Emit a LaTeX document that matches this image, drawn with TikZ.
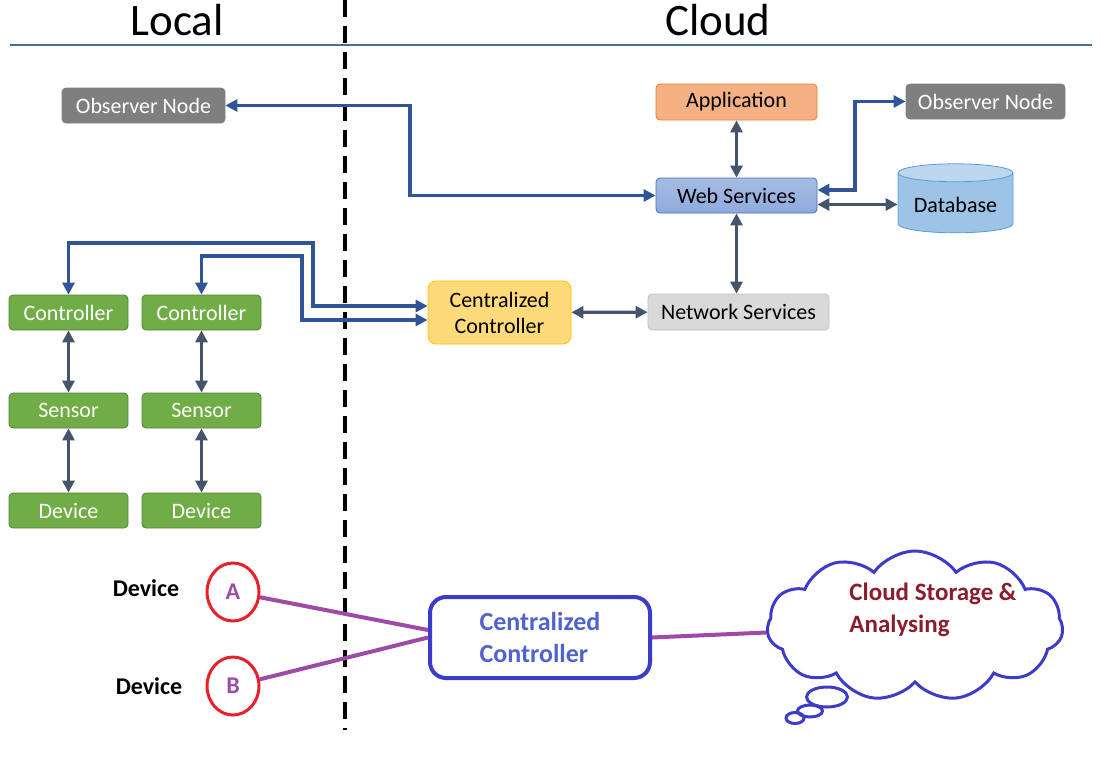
\documentclass[tikz,border=0pt]{standalone}
\usepackage{fontspec}
\setmainfont{Carlito}
\usetikzlibrary{arrows.meta}
\usetikzlibrary{shapes.geometric}
\usetikzlibrary{shapes.symbols}

\definecolor{headblue}{HTML}{4A6F96}
\definecolor{obsgray}{HTML}{7F7F7F}
\definecolor{appfill}{HTML}{F4B183}
\definecolor{appedge}{HTML}{ED7D31}
\definecolor{webfill}{HTML}{8FAADC}
\definecolor{webedge}{HTML}{4472C4}
\definecolor{dbfill}{HTML}{9DC3E6}
\definecolor{dbtop}{HTML}{BDD7EE}
\definecolor{dbedge}{HTML}{5B9BD5}
\definecolor{ccfill}{HTML}{FFDA7A}
\definecolor{ccedge}{HTML}{FFC000}
\definecolor{netfill}{HTML}{D9D9D9}
\definecolor{netedge}{HTML}{BFBFBF}
\definecolor{leafgreen}{HTML}{70AD47}
\definecolor{leafedge}{HTML}{548235}
\definecolor{linkblue}{HTML}{2F5597}
\definecolor{slate}{HTML}{44546A}
\definecolor{penblue}{HTML}{3C3CC8}
\definecolor{inkblue}{HTML}{5062D0}
\definecolor{wire}{HTML}{9D4BA5}
\definecolor{ringred}{HTML}{E8202A}
\definecolor{wine}{HTML}{8B1C2C}

\begin{document}
\begin{tikzpicture}[x=1pt,y=-1pt,>={Triangle[length=12pt,width=12pt]},
  box/.style={rectangle,rounded corners=4pt,line width=0.8pt,minimum height=35,
    font=\fontsize{22}{26}\selectfont,inner sep=2pt},
  graybox/.style={box,fill=obsgray,draw=obsgray,text=white},
  appbox/.style={box,fill=appfill,draw=appedge,minimum width=161,minimum height=36},
  webbox/.style={box,top color=webfill!80!white,bottom color=webfill,draw=webedge,minimum width=161},
  ccbox/.style={box,fill=ccfill,draw=ccedge,minimum width=143,minimum height=63,align=center,rounded corners=8pt},
  netbox/.style={box,fill=netfill,draw=netedge,minimum width=181,minimum height=36},
  greenbox/.style={box,fill=leafgreen,draw=leafedge,text=white,minimum width=119},
  dbbox/.style={cylinder,shape border rotate=90,aspect=0.2,minimum width=115,minimum height=69,
    draw=dbedge,line width=0.8pt,cylinder uses custom fill,cylinder body fill=dbfill,
    cylinder end fill=dbtop,font=\fontsize{22}{26}\selectfont},
  blueline/.style={draw=linkblue,line width=3.3pt},
  slateline/.style={draw=slate,line width=3.3pt},
  title/.style={font=\fontsize{45}{54}\selectfont},
  devlabel/.style={font=\fontsize{24}{28}\selectfont\bfseries},
  ring/.style={ellipse,draw=ringred,line width=3pt,minimum width=52,minimum height=58,
    text=wire,font=\fontsize{24}{28}\selectfont\bfseries},
  wireline/.style={draw=wire,line width=4pt},
  ctrlbox/.style={rectangle,rounded corners=16pt,draw=penblue,line width=4pt,minimum width=220,
    minimum height=81,align=left,text=inkblue,font=\fontsize{26}{32}\selectfont\bfseries},
  puff/.style={draw=penblue,line width=3pt}]
\useasboundingbox (0,0) rectangle (1102,758);

% headings and the local / cloud split
\node[title] (local) at (177,20) {Local};
\node[title] (cloudhead) at (718,20) {Cloud};
\draw[headblue,line width=1.5pt] (10,45) -- (1092,45);
\draw[black,line width=4pt,dash pattern=on 17pt off 9pt] (345,0) -- (345,730);

% cloud side
\node[graybox,minimum width=163] (obsL) at (143.5,105.5) {Observer Node};
\node[appbox] (app) at (736.5,102) {Application};
\node[graybox,minimum width=159] (obsR) at (985.5,101.5) {Observer Node};
\node[webbox] (web) at (736.5,195.5) {Web Services};
\node[dbbox] (db) at (955.5,204.5) {\raisebox{-4pt}{Database}};
\node[ccbox] (cc) at (499.5,312.5) {Centralized\\Controller};
\node[netbox] (net) at (738.5,312) {Network Services};

\draw[blueline,<->] (obsL.east) -- (410,105.5) |- (web.west);
\draw[blueline,<->] ([yshift=5.5pt]web.east) -- (855,190) |- (obsR.west);
\draw[slateline,<->] (app) -- (web);
\draw[slateline,<->] (web.east |- db.west) -- (db.west);
\draw[slateline,<->] (web.south) -- (web.south |- net.north);
\draw[slateline,<->] (cc) -- (net);

% local side
\foreach \i/\x in {1/68.5,2/201.5} {
  \node[greenbox] (ctrl\i) at (\x,312.5) {Controller};
  \node[greenbox] (sens\i) at (\x,410.5) {Sensor};
  \node[greenbox] (dev\i) at (\x,510.5) {Device};
  \draw[slateline,<->] (ctrl\i) -- (sens\i);
  \draw[slateline,<->] (sens\i) -- (dev\i);
}
\draw[blueline,<->] (ctrl1.north) |- (313,243) |- ([yshift=6.5pt]cc.west);
\draw[blueline,<->] (ctrl2.north) |- (302,256) |- ([yshift=-7.5pt]cc.west);

% lower sketch
\node[devlabel] (labA) at (146,588) {Device};
\node[devlabel] (labB) at (149,686) {Device};
\node[ring] (devA) at (233,592) {A};
\node[ring] (devB) at (233,686) {B};
\node[ctrlbox] (ccb) at (540,637.5) {Centralized\\Controller};
\node[cloud,cloud puffs=11,cloud puff arc=110,aspect=2,draw=penblue,line width=3pt,
  minimum width=296,minimum height=150] (storage) at (915,626) {};
\node[align=left,text=wine,font=\fontsize{25}{32}\selectfont\bfseries] (storagetxt) at (933,610)
  {Cloud Storage \&\\Analysing};
\draw[puff] (827,697) ellipse [x radius=20.5pt,y radius=10pt];
\draw[puff] (810,711) ellipse [x radius=12.5pt,y radius=6pt];
\draw[puff] (795,718) ellipse [x radius=9pt,y radius=5.5pt];

\draw[wireline] (devA) -- ([yshift=7.5pt]ccb.west);
\draw[wireline] (devB) -- (ccb.west);
\draw[wireline] (ccb.east) -- (storage);
\end{tikzpicture}
\end{document}
